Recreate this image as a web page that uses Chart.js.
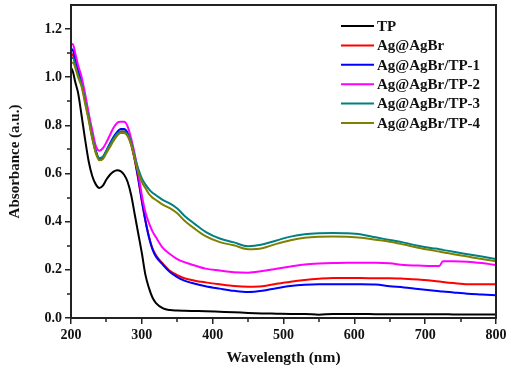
<!DOCTYPE html>
<html>
<head>
<meta charset="utf-8">
<script src="https://cdn.jsdelivr.net/npm/chart.js@4.4.1/dist/chart.umd.min.js"></script>
<style>
  html, body { margin: 0; padding: 0; background: #fff; }
  #wrap { width: 510px; height: 373px; position: relative; }
</style>
</head>
<body>
<div id="wrap"><canvas id="uv-chart"></canvas></div>
<script>
// wavelength grid (nm) shared by all spectra
const wavelength = [200, 203, 206, 210, 215, 220, 225, 230, 235, 240, 245, 250, 255, 260, 265, 270, 275, 280, 285, 290,
  295, 300, 305, 310, 315, 320, 330, 340, 350, 360, 375, 390, 410, 430, 450, 470, 490, 510, 530, 550,
  570, 590, 610, 630, 650, 670, 690, 710, 720, 725, 740, 760, 780, 800];

const tp = [1.04, 1.02, 0.98, 0.935, 0.84, 0.74, 0.65, 0.59, 0.555, 0.54, 0.55, 0.575, 0.595, 0.608, 0.614, 0.61, 0.595, 0.565, 0.51, 0.43,
  0.35, 0.27, 0.18, 0.125, 0.085, 0.062, 0.04, 0.033, 0.031, 0.03, 0.029, 0.028, 0.026, 0.024, 0.021, 0.019, 0.018, 0.017, 0.017, 0.014,
  0.017, 0.017, 0.017, 0.016, 0.016, 0.016, 0.016, 0.016, 0.016, 0.016, 0.015, 0.015, 0.015, 0.015];

const agAgBr = [1.10, 1.09, 1.06, 1.02, 0.97, 0.90, 0.83, 0.75, 0.69, 0.66, 0.665, 0.69, 0.72, 0.745, 0.765, 0.775, 0.775, 0.76, 0.72, 0.655,
  0.575, 0.485, 0.405, 0.34, 0.29, 0.26, 0.225, 0.195, 0.178, 0.165, 0.155, 0.148, 0.14, 0.133, 0.13, 0.132, 0.142, 0.151, 0.158, 0.163,
  0.166, 0.166, 0.166, 0.165, 0.165, 0.163, 0.16, 0.155, 0.152, 0.15, 0.145, 0.14, 0.14, 0.14];

const tp1 = [1.12, 1.11, 1.08, 1.03, 0.98, 0.91, 0.84, 0.76, 0.695, 0.662, 0.668, 0.695, 0.725, 0.752, 0.772, 0.785, 0.785, 0.768, 0.725, 0.66,
  0.58, 0.49, 0.405, 0.335, 0.285, 0.255, 0.22, 0.19, 0.17, 0.155, 0.142, 0.132, 0.122, 0.113, 0.108, 0.113, 0.124, 0.133, 0.138, 0.14,
  0.14, 0.14, 0.14, 0.139, 0.132, 0.127, 0.12, 0.114, 0.111, 0.11, 0.106, 0.101, 0.098, 0.095];

const tp2 = [1.14, 1.135, 1.10, 1.05, 1.0, 0.93, 0.85, 0.78, 0.715, 0.695, 0.705, 0.73, 0.76, 0.79, 0.81, 0.815, 0.815, 0.795, 0.745, 0.68,
  0.6, 0.51, 0.44, 0.395, 0.36, 0.335, 0.29, 0.265, 0.245, 0.232, 0.218, 0.205, 0.197, 0.19, 0.188, 0.195, 0.205, 0.214, 0.222, 0.226,
  0.228, 0.229, 0.229, 0.229, 0.227, 0.22, 0.218, 0.216, 0.216, 0.236, 0.236, 0.234, 0.228, 0.22];

const tp3 = [1.08, 1.08, 1.05, 1.01, 0.97, 0.9, 0.83, 0.755, 0.69, 0.665, 0.67, 0.695, 0.72, 0.745, 0.765, 0.775, 0.775, 0.762, 0.73, 0.67,
  0.62, 0.58, 0.555, 0.535, 0.52, 0.51, 0.49, 0.475, 0.455, 0.425, 0.39, 0.358, 0.33, 0.314, 0.298, 0.305, 0.322, 0.338, 0.348, 0.352,
  0.353, 0.352, 0.347, 0.335, 0.324, 0.313, 0.3, 0.29, 0.286, 0.283, 0.275, 0.265, 0.255, 0.245];

const tp4 = [1.06, 1.06, 1.04, 1.0, 0.96, 0.89, 0.82, 0.745, 0.685, 0.655, 0.66, 0.685, 0.71, 0.735, 0.757, 0.768, 0.768, 0.755, 0.72, 0.66,
  0.605, 0.565, 0.54, 0.515, 0.5, 0.49, 0.47, 0.455, 0.435, 0.405, 0.37, 0.34, 0.315, 0.302, 0.286, 0.29, 0.308, 0.323, 0.333, 0.337,
  0.338, 0.337, 0.333, 0.325, 0.317, 0.305, 0.292, 0.281, 0.276, 0.273, 0.265, 0.255, 0.245, 0.236];

const seriesNames = ["TP", "Ag@AgBr", "Ag@AgBr/TP-1", "Ag@AgBr/TP-2", "Ag@AgBr/TP-3", "Ag@AgBr/TP-4"];
const seriesColors = ["#000000", "#ff0000", "#0000ff", "#ff00ff", "#008080", "#808000"];
const seriesValues = [tp, agAgBr, tp1, tp2, tp3, tp4];

const xMinorTicks = [250, 350, 450, 550, 650, 750];
const yMinorTicks = [0.1, 0.3, 0.5, 0.7, 0.9, 1.1];

const serif = "'Times New Roman', 'Liberation Serif', 'DejaVu Serif', serif";

// box frame + short minor ticks
const frameTicks = {
  id: "frameTicks",
  afterDraw(chart) {
    const { ctx, chartArea: a, scales } = chart;
    ctx.save();
    ctx.strokeStyle = "#222";
    ctx.lineWidth = 2;
    ctx.strokeRect(a.left, a.top, a.right - a.left, a.bottom - a.top);
    ctx.lineWidth = 1.5;
    ctx.beginPath();
    xMinorTicks.forEach(v => {
      const px = Math.round(scales.x.getPixelForValue(v));
      ctx.moveTo(px, a.bottom);
      ctx.lineTo(px, a.bottom + 4);
    });
    yMinorTicks.forEach(v => {
      const py = Math.round(scales.y.getPixelForValue(v));
      ctx.moveTo(a.left, py);
      ctx.lineTo(a.left - 4, py);
    });
    ctx.stroke();
    ctx.restore();
  }
};

// legend drawn inside the plot, top right
const insideLegend = {
  id: "insideLegend",
  afterDraw(chart) {
    const { ctx } = chart;
    ctx.save();
    ctx.font = "bold 15px " + serif;
    ctx.textBaseline = "middle";
    ctx.textAlign = "left";
    chart.data.datasets.forEach((ds, i) => {
      const y = 26 + i * 19.4;
      ctx.strokeStyle = ds.borderColor;
      ctx.lineWidth = 2;
      ctx.beginPath();
      ctx.moveTo(341, y);
      ctx.lineTo(374, y);
      ctx.stroke();
      ctx.fillStyle = "#111";
      ctx.fillText(ds.label, 377, y + 1);
    });
    ctx.restore();
  }
};

const datasets = seriesNames.map((name, i) => ({
  label: name,
  data: wavelength.map((w, k) => ({ x: w, y: seriesValues[i][k] })),
  borderColor: seriesColors[i],
  backgroundColor: seriesColors[i],
  borderWidth: 2,
  pointRadius: 0,
  cubicInterpolationMode: "monotone",
  fill: false,
  order: seriesNames.length - i
}));

new Chart(document.getElementById("uv-chart"), {
  type: "line",
  data: { datasets },
  options: {
    responsive: true,
    maintainAspectRatio: false,
    animation: false,
    devicePixelRatio: 1,
    layout: { padding: { top: 5, right: 14, left: 0, bottom: 0 } },
    plugins: {
      legend: { display: false },
      tooltip: { enabled: false }
    },
    scales: {
      x: {
        type: "linear",
        min: 200,
        max: 800,
        afterFit: s => { s.height = 55; },
        title: {
          display: true,
          text: "Wavelength (nm)",
          color: "#111",
          font: { family: serif, size: 15.5, weight: "bold" },
          padding: { top: 0, bottom: 6 }
        },
        grid: { drawOnChartArea: false, tickLength: 6, color: "#222", lineWidth: 1.5 },
        border: { color: "#222", width: 2 },
        ticks: {
          stepSize: 100,
          padding: 3,
          color: "#111",
          font: { family: serif, size: 14, weight: "bold" }
        }
      },
      y: {
        min: 0,
        max: 1.3,
        afterFit: s => { s.width = 71; s.paddingTop = 0; s.paddingBottom = 0; },
        title: {
          display: true,
          text: "Absorbance (a.u.)",
          color: "#111",
          font: { family: serif, size: 15, weight: "bold" },
          padding: { top: 6, bottom: 0 }
        },
        grid: { drawOnChartArea: false, tickLength: 6, color: "#222", lineWidth: 1.5 },
        border: { color: "#222", width: 2 },
        ticks: {
          stepSize: 0.2,
          includeBounds: false,
          padding: 3,
          color: "#111",
          font: { family: serif, size: 14, weight: "bold" },
          callback: v => v.toFixed(1)
        }
      }
    }
  },
  plugins: [frameTicks, insideLegend]
});
</script>
</body>
</html>
